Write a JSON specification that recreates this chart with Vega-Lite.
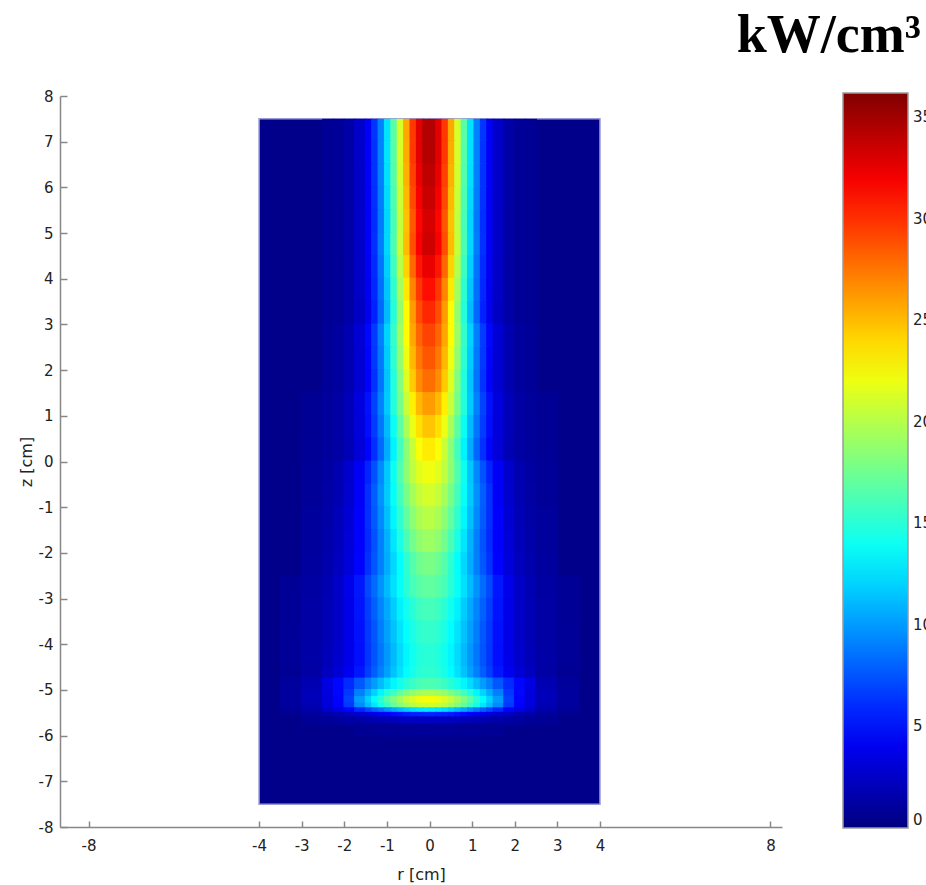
{
  "$schema": "https://vega.github.io/schema/vega-lite/v6.json",
  "width": 722,
  "height": 731,
  "autosize": {"type": "none"},
  "padding": {"left": 60, "top": 96, "right": 144, "bottom": 58},
  "background": "white",
  "title": {
    "text": "kW/cm³",
    "anchor": "end",
    "frame": "group",
    "font": "Liberation Serif",
    "fontSize": 54,
    "fontWeight": "bold",
    "color": "#000000",
    "baseline": "bottom",
    "offset": 30,
    "dy": 58,
    "dx": 139
  },
  "config": {
    "view": {"stroke": null},
    "axis": {
      "grid": false,
      "labelFont": "DejaVu Sans",
      "titleFont": "DejaVu Sans",
      "labelFontSize": 15,
      "titleFontSize": 16,
      "titleFontWeight": "normal",
      "labelColor": "#222222",
      "titleColor": "#222222",
      "domainColor": "#888888",
      "domainWidth": 1.5,
      "tickColor": "#888888",
      "tickWidth": 1.5,
      "labelOverlap": false,
      "labelFlush": false,
      "labelExpr": "datum.value < 0 ? '-' + abs(datum.value) : '' + datum.value"
    }
  },
  "datasets": {
    "frame": [{"r0": -4, "r1": 4, "z0": -7.5, "z1": 7.5, "p": 0.4}],
    "columns": [
      {"r": -3.25, "r0": -3.52, "r1": -2.98}, {"r": -2.75, "r0": -3.02, "r1": -2.48},
      {"r": -2.375, "r0": -2.52, "r1": -2.23}, {"r": -2.125, "r0": -2.27, "r1": -1.98}, {"r": -1.875, "r0": -2.02, "r1": -1.73},
      {"r": -1.625, "r0": -1.77, "r1": -1.48}, {"r": -1.425, "r0": -1.52, "r1": -1.33}, {"r": -1.275, "r0": -1.37, "r1": -1.18},
      {"r": -1.125, "r0": -1.22, "r1": -1.03}, {"r": -0.975, "r0": -1.07, "r1": -0.88}, {"r": -0.825, "r0": -0.92, "r1": -0.73},
      {"r": -0.675, "r0": -0.77, "r1": -0.58}, {"r": -0.525, "r0": -0.62, "r1": -0.43}, {"r": -0.375, "r0": -0.47, "r1": -0.28},
      {"r": -0.225, "r0": -0.32, "r1": -0.13}, {"r": -0.075, "r0": -0.17, "r1": 0.02},
      {"r": 0.075, "r0": -0.02, "r1": 0.17}, {"r": 0.225, "r0": 0.13, "r1": 0.32}, {"r": 0.375, "r0": 0.28, "r1": 0.47},
      {"r": 0.525, "r0": 0.43, "r1": 0.62}, {"r": 0.675, "r0": 0.58, "r1": 0.77}, {"r": 0.825, "r0": 0.73, "r1": 0.92},
      {"r": 0.975, "r0": 0.88, "r1": 1.07}, {"r": 1.125, "r0": 1.03, "r1": 1.22}, {"r": 1.275, "r0": 1.18, "r1": 1.37},
      {"r": 1.425, "r0": 1.33, "r1": 1.52}, {"r": 1.625, "r0": 1.48, "r1": 1.77}, {"r": 1.875, "r0": 1.73, "r1": 2.02},
      {"r": 2.125, "r0": 1.98, "r1": 2.27}, {"r": 2.375, "r0": 2.23, "r1": 2.52}, {"r": 2.75, "r0": 2.48, "r1": 3.02},
      {"r": 3.25, "r0": 2.98, "r1": 3.52}
    ],
    "rows": [
      {"z": 7.25, "z0": 6.98, "z1": 7.5}, {"z": 6.75, "z0": 6.48, "z1": 7.02}, {"z": 6.25, "z0": 5.98, "z1": 6.52},
      {"z": 5.75, "z0": 5.48, "z1": 6.02}, {"z": 5.25, "z0": 4.98, "z1": 5.52}, {"z": 4.75, "z0": 4.48, "z1": 5.02},
      {"z": 4.25, "z0": 3.98, "z1": 4.52}, {"z": 3.75, "z0": 3.48, "z1": 4.02}, {"z": 3.25, "z0": 2.98, "z1": 3.52},
      {"z": 2.75, "z0": 2.48, "z1": 3.02}, {"z": 2.25, "z0": 1.98, "z1": 2.52}, {"z": 1.75, "z0": 1.48, "z1": 2.02},
      {"z": 1.25, "z0": 0.98, "z1": 1.52}, {"z": 0.75, "z0": 0.48, "z1": 1.02}, {"z": 0.25, "z0": -0.02, "z1": 0.52},
      {"z": -0.25, "z0": -0.52, "z1": 0.02}, {"z": -0.75, "z0": -1.02, "z1": -0.48}, {"z": -1.25, "z0": -1.52, "z1": -0.98},
      {"z": -1.75, "z0": -2.02, "z1": -1.48}, {"z": -2.25, "z0": -2.52, "z1": -1.98}, {"z": -2.75, "z0": -3.02, "z1": -2.48},
      {"z": -3.25, "z0": -3.52, "z1": -2.98}, {"z": -3.75, "z0": -4.02, "z1": -3.48}, {"z": -4.25, "z0": -4.52, "z1": -3.98},
      {"z": -4.625, "z0": -4.77, "z1": -4.48}, {"z": -4.875, "z0": -5.02, "z1": -4.73}, {"z": -5.075, "z0": -5.17, "z1": -4.98},
      {"z": -5.225, "z0": -5.32, "z1": -5.13}, {"z": -5.35, "z0": -5.42, "z1": -5.28}, {"z": -5.45, "z0": -5.52, "z1": -5.38},
      {"z": -5.55, "z0": -5.62, "z1": -5.48}, {"z": -5.675, "z0": -5.77, "z1": -5.58}, {"z": -5.875, "z0": -6.02, "z1": -5.73}
    ],
    "cells": [
      {"r":-2.375,"z":7.25,"p":0.7},{"r":-2.125,"z":7.25,"p":0.9},{"r":-1.875,"z":7.25,"p":1.4},{"r":-1.625,"z":7.25,"p":2.6},{"r":-1.425,"z":7.25,"p":4.3},{"r":-1.275,"z":7.25,"p":6.4},{"r":-1.125,"z":7.25,"p":9.1},{"r":-0.975,"z":7.25,"p":12.6},{"r":-0.825,"z":7.25,"p":16.7},{"r":-0.675,"z":7.25,"p":21.2},{"r":-0.525,"z":7.25,"p":25.7},{"r":-0.375,"z":7.25,"p":29.7},{"r":-0.225,"z":7.25,"p":32.7},{"r":-0.075,"z":7.25,"p":34.4},
      {"r":0.075,"z":7.25,"p":34.4},{"r":0.225,"z":7.25,"p":32.7},{"r":0.375,"z":7.25,"p":29.7},{"r":0.525,"z":7.25,"p":25.7},{"r":0.675,"z":7.25,"p":21.2},{"r":0.825,"z":7.25,"p":16.7},{"r":0.975,"z":7.25,"p":12.6},{"r":1.125,"z":7.25,"p":9.1},{"r":1.275,"z":7.25,"p":6.4},{"r":1.425,"z":7.25,"p":4.3},{"r":1.625,"z":7.25,"p":2.6},{"r":1.875,"z":7.25,"p":1.4},{"r":2.125,"z":7.25,"p":0.9},{"r":2.375,"z":7.25,"p":0.7},

      {"r":-2.375,"z":6.75,"p":0.7},{"r":-2.125,"z":6.75,"p":0.9},{"r":-1.875,"z":6.75,"p":1.4},{"r":-1.625,"z":6.75,"p":2.6},{"r":-1.425,"z":6.75,"p":4.3},{"r":-1.275,"z":6.75,"p":6.3},{"r":-1.125,"z":6.75,"p":9.1},{"r":-0.975,"z":6.75,"p":12.6},{"r":-0.825,"z":6.75,"p":16.6},{"r":-0.675,"z":6.75,"p":21.2},{"r":-0.525,"z":6.75,"p":25.6},{"r":-0.375,"z":6.75,"p":29.7},{"r":-0.225,"z":6.75,"p":32.7},{"r":-0.075,"z":6.75,"p":34.3},
      {"r":0.075,"z":6.75,"p":34.3},{"r":0.225,"z":6.75,"p":32.7},{"r":0.375,"z":6.75,"p":29.7},{"r":0.525,"z":6.75,"p":25.6},{"r":0.675,"z":6.75,"p":21.2},{"r":0.825,"z":6.75,"p":16.6},{"r":0.975,"z":6.75,"p":12.6},{"r":1.125,"z":6.75,"p":9.1},{"r":1.275,"z":6.75,"p":6.3},{"r":1.425,"z":6.75,"p":4.3},{"r":1.625,"z":6.75,"p":2.6},{"r":1.875,"z":6.75,"p":1.4},{"r":2.125,"z":6.75,"p":0.9},{"r":2.375,"z":6.75,"p":0.7},

      {"r":-2.375,"z":6.25,"p":0.7},{"r":-2.125,"z":6.25,"p":0.9},{"r":-1.875,"z":6.25,"p":1.4},{"r":-1.625,"z":6.25,"p":2.5},{"r":-1.425,"z":6.25,"p":4.3},{"r":-1.275,"z":6.25,"p":6.3},{"r":-1.125,"z":6.25,"p":9.0},{"r":-0.975,"z":6.25,"p":12.5},{"r":-0.825,"z":6.25,"p":16.5},{"r":-0.675,"z":6.25,"p":21.0},{"r":-0.525,"z":6.25,"p":25.4},{"r":-0.375,"z":6.25,"p":29.4},{"r":-0.225,"z":6.25,"p":32.4},{"r":-0.075,"z":6.25,"p":34.0},
      {"r":0.075,"z":6.25,"p":34.0},{"r":0.225,"z":6.25,"p":32.4},{"r":0.375,"z":6.25,"p":29.4},{"r":0.525,"z":6.25,"p":25.4},{"r":0.675,"z":6.25,"p":21.0},{"r":0.825,"z":6.25,"p":16.5},{"r":0.975,"z":6.25,"p":12.5},{"r":1.125,"z":6.25,"p":9.0},{"r":1.275,"z":6.25,"p":6.3},{"r":1.425,"z":6.25,"p":4.3},{"r":1.625,"z":6.25,"p":2.5},{"r":1.875,"z":6.25,"p":1.4},{"r":2.125,"z":6.25,"p":0.9},{"r":2.375,"z":6.25,"p":0.7},

      {"r":-2.375,"z":5.75,"p":0.7},{"r":-2.125,"z":5.75,"p":0.9},{"r":-1.875,"z":5.75,"p":1.4},{"r":-1.625,"z":5.75,"p":2.5},{"r":-1.425,"z":5.75,"p":4.2},{"r":-1.275,"z":5.75,"p":6.2},{"r":-1.125,"z":5.75,"p":8.9},{"r":-0.975,"z":5.75,"p":12.3},{"r":-0.825,"z":5.75,"p":16.3},{"r":-0.675,"z":5.75,"p":20.7},{"r":-0.525,"z":5.75,"p":25.1},{"r":-0.375,"z":5.75,"p":29.1},{"r":-0.225,"z":5.75,"p":32.0},{"r":-0.075,"z":5.75,"p":33.6},
      {"r":0.075,"z":5.75,"p":33.6},{"r":0.225,"z":5.75,"p":32.0},{"r":0.375,"z":5.75,"p":29.1},{"r":0.525,"z":5.75,"p":25.1},{"r":0.675,"z":5.75,"p":20.7},{"r":0.825,"z":5.75,"p":16.3},{"r":0.975,"z":5.75,"p":12.3},{"r":1.125,"z":5.75,"p":8.9},{"r":1.275,"z":5.75,"p":6.2},{"r":1.425,"z":5.75,"p":4.2},{"r":1.625,"z":5.75,"p":2.5},{"r":1.875,"z":5.75,"p":1.4},{"r":2.125,"z":5.75,"p":0.9},{"r":2.375,"z":5.75,"p":0.7},

      {"r":-2.375,"z":5.25,"p":0.7},{"r":-2.125,"z":5.25,"p":0.9},{"r":-1.875,"z":5.25,"p":1.3},{"r":-1.625,"z":5.25,"p":2.5},{"r":-1.425,"z":5.25,"p":4.2},{"r":-1.275,"z":5.25,"p":6.1},{"r":-1.125,"z":5.25,"p":8.8},{"r":-0.975,"z":5.25,"p":12.1},{"r":-0.825,"z":5.25,"p":16.1},{"r":-0.675,"z":5.25,"p":20.4},{"r":-0.525,"z":5.25,"p":24.8},{"r":-0.375,"z":5.25,"p":28.6},{"r":-0.225,"z":5.25,"p":31.5},{"r":-0.075,"z":5.25,"p":33.1},
      {"r":0.075,"z":5.25,"p":33.1},{"r":0.225,"z":5.25,"p":31.5},{"r":0.375,"z":5.25,"p":28.6},{"r":0.525,"z":5.25,"p":24.8},{"r":0.675,"z":5.25,"p":20.4},{"r":0.825,"z":5.25,"p":16.1},{"r":0.975,"z":5.25,"p":12.1},{"r":1.125,"z":5.25,"p":8.8},{"r":1.275,"z":5.25,"p":6.1},{"r":1.425,"z":5.25,"p":4.2},{"r":1.625,"z":5.25,"p":2.5},{"r":1.875,"z":5.25,"p":1.3},{"r":2.125,"z":5.25,"p":0.9},{"r":2.375,"z":5.25,"p":0.7},

      {"r":-2.375,"z":4.75,"p":0.7},{"r":-2.125,"z":4.75,"p":0.9},{"r":-1.875,"z":4.75,"p":1.4},{"r":-1.625,"z":4.75,"p":2.5},{"r":-1.425,"z":4.75,"p":4.2},{"r":-1.275,"z":4.75,"p":6.2},{"r":-1.125,"z":4.75,"p":8.9},{"r":-0.975,"z":4.75,"p":12.2},{"r":-0.825,"z":4.75,"p":16.2},{"r":-0.675,"z":4.75,"p":20.6},{"r":-0.525,"z":4.75,"p":25.0},{"r":-0.375,"z":4.75,"p":28.9},{"r":-0.225,"z":4.75,"p":31.8},{"r":-0.075,"z":4.75,"p":33.4},
      {"r":0.075,"z":4.75,"p":33.4},{"r":0.225,"z":4.75,"p":31.8},{"r":0.375,"z":4.75,"p":28.9},{"r":0.525,"z":4.75,"p":25.0},{"r":0.675,"z":4.75,"p":20.6},{"r":0.825,"z":4.75,"p":16.2},{"r":0.975,"z":4.75,"p":12.2},{"r":1.125,"z":4.75,"p":8.9},{"r":1.275,"z":4.75,"p":6.2},{"r":1.425,"z":4.75,"p":4.2},{"r":1.625,"z":4.75,"p":2.5},{"r":1.875,"z":4.75,"p":1.4},{"r":2.125,"z":4.75,"p":0.9},{"r":2.375,"z":4.75,"p":0.7},

      {"r":-2.375,"z":4.25,"p":0.7},{"r":-2.125,"z":4.25,"p":0.9},{"r":-1.875,"z":4.25,"p":1.3},{"r":-1.625,"z":4.25,"p":2.5},{"r":-1.425,"z":4.25,"p":4.1},{"r":-1.275,"z":4.25,"p":6.0},{"r":-1.125,"z":4.25,"p":8.6},{"r":-0.975,"z":4.25,"p":11.9},{"r":-0.825,"z":4.25,"p":15.7},{"r":-0.675,"z":4.25,"p":20.0},{"r":-0.525,"z":4.25,"p":24.2},{"r":-0.375,"z":4.25,"p":28.0},{"r":-0.225,"z":4.25,"p":30.9},{"r":-0.075,"z":4.25,"p":32.4},
      {"r":0.075,"z":4.25,"p":32.4},{"r":0.225,"z":4.25,"p":30.9},{"r":0.375,"z":4.25,"p":28.0},{"r":0.525,"z":4.25,"p":24.2},{"r":0.675,"z":4.25,"p":20.0},{"r":0.825,"z":4.25,"p":15.7},{"r":0.975,"z":4.25,"p":11.9},{"r":1.125,"z":4.25,"p":8.6},{"r":1.275,"z":4.25,"p":6.0},{"r":1.425,"z":4.25,"p":4.1},{"r":1.625,"z":4.25,"p":2.5},{"r":1.875,"z":4.25,"p":1.3},{"r":2.125,"z":4.25,"p":0.9},{"r":2.375,"z":4.25,"p":0.7},

      {"r":-2.375,"z":3.75,"p":0.7},{"r":-2.125,"z":3.75,"p":0.9},{"r":-1.875,"z":3.75,"p":1.4},{"r":-1.625,"z":3.75,"p":2.5},{"r":-1.425,"z":3.75,"p":4.0},{"r":-1.275,"z":3.75,"p":5.9},{"r":-1.125,"z":3.75,"p":8.4},{"r":-0.975,"z":3.75,"p":11.5},{"r":-0.825,"z":3.75,"p":15.2},{"r":-0.675,"z":3.75,"p":19.3},{"r":-0.525,"z":3.75,"p":23.4},{"r":-0.375,"z":3.75,"p":27.0},{"r":-0.225,"z":3.75,"p":29.7},{"r":-0.075,"z":3.75,"p":31.2},
      {"r":0.075,"z":3.75,"p":31.2},{"r":0.225,"z":3.75,"p":29.7},{"r":0.375,"z":3.75,"p":27.0},{"r":0.525,"z":3.75,"p":23.4},{"r":0.675,"z":3.75,"p":19.3},{"r":0.825,"z":3.75,"p":15.2},{"r":0.975,"z":3.75,"p":11.5},{"r":1.125,"z":3.75,"p":8.4},{"r":1.275,"z":3.75,"p":5.9},{"r":1.425,"z":3.75,"p":4.0},{"r":1.625,"z":3.75,"p":2.5},{"r":1.875,"z":3.75,"p":1.4},{"r":2.125,"z":3.75,"p":0.9},{"r":2.375,"z":3.75,"p":0.7},

      {"r":-2.375,"z":3.25,"p":0.7},{"r":-2.125,"z":3.25,"p":0.9},{"r":-1.875,"z":3.25,"p":1.4},{"r":-1.625,"z":3.25,"p":2.4},{"r":-1.425,"z":3.25,"p":3.9},{"r":-1.275,"z":3.25,"p":5.7},{"r":-1.125,"z":3.25,"p":8.2},{"r":-0.975,"z":3.25,"p":11.2},{"r":-0.825,"z":3.25,"p":14.8},{"r":-0.675,"z":3.25,"p":18.8},{"r":-0.525,"z":3.25,"p":22.7},{"r":-0.375,"z":3.25,"p":26.2},{"r":-0.225,"z":3.25,"p":28.9},{"r":-0.075,"z":3.25,"p":30.3},
      {"r":0.075,"z":3.25,"p":30.3},{"r":0.225,"z":3.25,"p":28.9},{"r":0.375,"z":3.25,"p":26.2},{"r":0.525,"z":3.25,"p":22.7},{"r":0.675,"z":3.25,"p":18.8},{"r":0.825,"z":3.25,"p":14.8},{"r":0.975,"z":3.25,"p":11.2},{"r":1.125,"z":3.25,"p":8.2},{"r":1.275,"z":3.25,"p":5.7},{"r":1.425,"z":3.25,"p":3.9},{"r":1.625,"z":3.25,"p":2.4},{"r":1.875,"z":3.25,"p":1.4},{"r":2.125,"z":3.25,"p":0.9},{"r":2.375,"z":3.25,"p":0.7},

      {"r":-2.375,"z":2.75,"p":0.9},{"r":-2.125,"z":2.75,"p":1.1},{"r":-1.875,"z":2.75,"p":1.7},{"r":-1.625,"z":2.75,"p":3.0},{"r":-1.425,"z":2.75,"p":4.7},{"r":-1.275,"z":2.75,"p":6.6},{"r":-1.125,"z":2.75,"p":9.0},{"r":-0.975,"z":2.75,"p":12.0},{"r":-0.825,"z":2.75,"p":15.4},{"r":-0.675,"z":2.75,"p":19.1},{"r":-0.525,"z":2.75,"p":22.7},{"r":-0.375,"z":2.75,"p":25.8},{"r":-0.225,"z":2.75,"p":28.1},{"r":-0.075,"z":2.75,"p":29.3},
      {"r":0.075,"z":2.75,"p":29.3},{"r":0.225,"z":2.75,"p":28.1},{"r":0.375,"z":2.75,"p":25.8},{"r":0.525,"z":2.75,"p":22.7},{"r":0.675,"z":2.75,"p":19.1},{"r":0.825,"z":2.75,"p":15.4},{"r":0.975,"z":2.75,"p":12.0},{"r":1.125,"z":2.75,"p":9.0},{"r":1.275,"z":2.75,"p":6.6},{"r":1.425,"z":2.75,"p":4.7},{"r":1.625,"z":2.75,"p":3.0},{"r":1.875,"z":2.75,"p":1.7},{"r":2.125,"z":2.75,"p":1.1},{"r":2.375,"z":2.75,"p":0.9},

      {"r":-2.375,"z":2.25,"p":0.9},{"r":-2.125,"z":2.25,"p":1.1},{"r":-1.875,"z":2.25,"p":1.7},{"r":-1.625,"z":2.25,"p":2.9},{"r":-1.425,"z":2.25,"p":4.6},{"r":-1.275,"z":2.25,"p":6.5},{"r":-1.125,"z":2.25,"p":8.8},{"r":-0.975,"z":2.25,"p":11.8},{"r":-0.825,"z":2.25,"p":15.1},{"r":-0.675,"z":2.25,"p":18.7},{"r":-0.525,"z":2.25,"p":22.1},{"r":-0.375,"z":2.25,"p":25.2},{"r":-0.225,"z":2.25,"p":27.4},{"r":-0.075,"z":2.25,"p":28.6},
      {"r":0.075,"z":2.25,"p":28.6},{"r":0.225,"z":2.25,"p":27.4},{"r":0.375,"z":2.25,"p":25.2},{"r":0.525,"z":2.25,"p":22.1},{"r":0.675,"z":2.25,"p":18.7},{"r":0.825,"z":2.25,"p":15.1},{"r":0.975,"z":2.25,"p":11.8},{"r":1.125,"z":2.25,"p":8.8},{"r":1.275,"z":2.25,"p":6.5},{"r":1.425,"z":2.25,"p":4.6},{"r":1.625,"z":2.25,"p":2.9},{"r":1.875,"z":2.25,"p":1.7},{"r":2.125,"z":2.25,"p":1.1},{"r":2.375,"z":2.25,"p":0.9},

      {"r":-2.375,"z":1.75,"p":0.9},{"r":-2.125,"z":1.75,"p":1.1},{"r":-1.875,"z":1.75,"p":1.7},{"r":-1.625,"z":1.75,"p":2.9},{"r":-1.425,"z":1.75,"p":4.5},{"r":-1.275,"z":1.75,"p":6.3},{"r":-1.125,"z":1.75,"p":8.6},{"r":-0.975,"z":1.75,"p":11.5},{"r":-0.825,"z":1.75,"p":14.7},{"r":-0.675,"z":1.75,"p":18.1},{"r":-0.525,"z":1.75,"p":21.5},{"r":-0.375,"z":1.75,"p":24.5},{"r":-0.225,"z":1.75,"p":26.7},{"r":-0.075,"z":1.75,"p":27.8},
      {"r":0.075,"z":1.75,"p":27.8},{"r":0.225,"z":1.75,"p":26.7},{"r":0.375,"z":1.75,"p":24.5},{"r":0.525,"z":1.75,"p":21.5},{"r":0.675,"z":1.75,"p":18.1},{"r":0.825,"z":1.75,"p":14.7},{"r":0.975,"z":1.75,"p":11.5},{"r":1.125,"z":1.75,"p":8.6},{"r":1.275,"z":1.75,"p":6.3},{"r":1.425,"z":1.75,"p":4.5},{"r":1.625,"z":1.75,"p":2.9},{"r":1.875,"z":1.75,"p":1.7},{"r":2.125,"z":1.75,"p":1.1},{"r":2.375,"z":1.75,"p":0.9},

      {"r":-2.75,"z":1.25,"p":0.7},{"r":-2.375,"z":1.25,"p":1.0},{"r":-2.125,"z":1.25,"p":1.3},{"r":-1.875,"z":1.25,"p":2.0},{"r":-1.625,"z":1.25,"p":3.3},{"r":-1.425,"z":1.25,"p":5.1},{"r":-1.275,"z":1.25,"p":6.9},{"r":-1.125,"z":1.25,"p":9.1},{"r":-0.975,"z":1.25,"p":11.7},{"r":-0.825,"z":1.25,"p":14.7},{"r":-0.675,"z":1.25,"p":17.7},{"r":-0.525,"z":1.25,"p":20.7},{"r":-0.375,"z":1.25,"p":23.2},{"r":-0.225,"z":1.25,"p":25.1},{"r":-0.075,"z":1.25,"p":26.1},
      {"r":0.075,"z":1.25,"p":26.1},{"r":0.225,"z":1.25,"p":25.1},{"r":0.375,"z":1.25,"p":23.2},{"r":0.525,"z":1.25,"p":20.7},{"r":0.675,"z":1.25,"p":17.7},{"r":0.825,"z":1.25,"p":14.7},{"r":0.975,"z":1.25,"p":11.7},{"r":1.125,"z":1.25,"p":9.1},{"r":1.275,"z":1.25,"p":6.9},{"r":1.425,"z":1.25,"p":5.1},{"r":1.625,"z":1.25,"p":3.3},{"r":1.875,"z":1.25,"p":2.0},{"r":2.125,"z":1.25,"p":1.3},{"r":2.375,"z":1.25,"p":1.0},{"r":2.75,"z":1.25,"p":0.7},

      {"r":-2.75,"z":0.75,"p":0.7},{"r":-2.375,"z":0.75,"p":1.0},{"r":-2.125,"z":0.75,"p":1.3},{"r":-1.875,"z":0.75,"p":2.0},{"r":-1.625,"z":0.75,"p":3.2},{"r":-1.425,"z":0.75,"p":4.9},{"r":-1.275,"z":0.75,"p":6.6},{"r":-1.125,"z":0.75,"p":8.7},{"r":-0.975,"z":0.75,"p":11.1},{"r":-0.825,"z":0.75,"p":13.9},{"r":-0.675,"z":0.75,"p":16.8},{"r":-0.525,"z":0.75,"p":19.6},{"r":-0.375,"z":0.75,"p":22.0},{"r":-0.225,"z":0.75,"p":23.7},{"r":-0.075,"z":0.75,"p":24.7},
      {"r":0.075,"z":0.75,"p":24.7},{"r":0.225,"z":0.75,"p":23.7},{"r":0.375,"z":0.75,"p":22.0},{"r":0.525,"z":0.75,"p":19.6},{"r":0.675,"z":0.75,"p":16.8},{"r":0.825,"z":0.75,"p":13.9},{"r":0.975,"z":0.75,"p":11.1},{"r":1.125,"z":0.75,"p":8.7},{"r":1.275,"z":0.75,"p":6.6},{"r":1.425,"z":0.75,"p":4.9},{"r":1.625,"z":0.75,"p":3.2},{"r":1.875,"z":0.75,"p":2.0},{"r":2.125,"z":0.75,"p":1.3},{"r":2.375,"z":0.75,"p":1.0},{"r":2.75,"z":0.75,"p":0.7},

      {"r":-2.75,"z":0.25,"p":0.8},{"r":-2.375,"z":0.25,"p":1.0},{"r":-2.125,"z":0.25,"p":1.3},{"r":-1.875,"z":0.25,"p":1.9},{"r":-1.625,"z":0.25,"p":3.1},{"r":-1.425,"z":0.25,"p":4.6},{"r":-1.275,"z":0.25,"p":6.2},{"r":-1.125,"z":0.25,"p":8.2},{"r":-0.975,"z":0.25,"p":10.6},{"r":-0.825,"z":0.25,"p":13.2},{"r":-0.675,"z":0.25,"p":15.9},{"r":-0.525,"z":0.25,"p":18.5},{"r":-0.375,"z":0.25,"p":20.7},{"r":-0.225,"z":0.25,"p":22.4},{"r":-0.075,"z":0.25,"p":23.3},
      {"r":0.075,"z":0.25,"p":23.3},{"r":0.225,"z":0.25,"p":22.4},{"r":0.375,"z":0.25,"p":20.7},{"r":0.525,"z":0.25,"p":18.5},{"r":0.675,"z":0.25,"p":15.9},{"r":0.825,"z":0.25,"p":13.2},{"r":0.975,"z":0.25,"p":10.6},{"r":1.125,"z":0.25,"p":8.2},{"r":1.275,"z":0.25,"p":6.2},{"r":1.425,"z":0.25,"p":4.6},{"r":1.625,"z":0.25,"p":3.1},{"r":1.875,"z":0.25,"p":1.9},{"r":2.125,"z":0.25,"p":1.3},{"r":2.375,"z":0.25,"p":1.0},{"r":2.75,"z":0.25,"p":0.8},

      {"r":-2.75,"z":-0.25,"p":0.9},{"r":-2.375,"z":-0.25,"p":1.2},{"r":-2.125,"z":-0.25,"p":1.7},{"r":-1.875,"z":-0.25,"p":2.7},{"r":-1.625,"z":-0.25,"p":4.2},{"r":-1.425,"z":-0.25,"p":5.8},{"r":-1.275,"z":-0.25,"p":7.4},{"r":-1.125,"z":-0.25,"p":9.4},{"r":-0.975,"z":-0.25,"p":11.6},{"r":-0.825,"z":-0.25,"p":14.0},{"r":-0.675,"z":-0.25,"p":16.4},{"r":-0.525,"z":-0.25,"p":18.6},{"r":-0.375,"z":-0.25,"p":20.3},{"r":-0.225,"z":-0.25,"p":21.5},{"r":-0.075,"z":-0.25,"p":22.1},
      {"r":0.075,"z":-0.25,"p":22.1},{"r":0.225,"z":-0.25,"p":21.5},{"r":0.375,"z":-0.25,"p":20.3},{"r":0.525,"z":-0.25,"p":18.6},{"r":0.675,"z":-0.25,"p":16.4},{"r":0.825,"z":-0.25,"p":14.0},{"r":0.975,"z":-0.25,"p":11.6},{"r":1.125,"z":-0.25,"p":9.4},{"r":1.275,"z":-0.25,"p":7.4},{"r":1.425,"z":-0.25,"p":5.8},{"r":1.625,"z":-0.25,"p":4.2},{"r":1.875,"z":-0.25,"p":2.7},{"r":2.125,"z":-0.25,"p":1.7},{"r":2.375,"z":-0.25,"p":1.2},{"r":2.75,"z":-0.25,"p":0.9},

      {"r":-2.75,"z":-0.75,"p":0.9},{"r":-2.375,"z":-0.75,"p":1.3},{"r":-2.125,"z":-0.75,"p":1.8},{"r":-1.875,"z":-0.75,"p":2.8},{"r":-1.625,"z":-0.75,"p":4.3},{"r":-1.425,"z":-0.75,"p":6.2},{"r":-1.275,"z":-0.75,"p":7.8},{"r":-1.125,"z":-0.75,"p":9.7},{"r":-0.975,"z":-0.75,"p":11.7},{"r":-0.825,"z":-0.75,"p":13.8},{"r":-0.675,"z":-0.75,"p":15.9},{"r":-0.525,"z":-0.75,"p":17.8},{"r":-0.375,"z":-0.75,"p":19.4},{"r":-0.225,"z":-0.75,"p":20.5},{"r":-0.075,"z":-0.75,"p":21.1},
      {"r":0.075,"z":-0.75,"p":21.1},{"r":0.225,"z":-0.75,"p":20.5},{"r":0.375,"z":-0.75,"p":19.4},{"r":0.525,"z":-0.75,"p":17.8},{"r":0.675,"z":-0.75,"p":15.9},{"r":0.825,"z":-0.75,"p":13.8},{"r":0.975,"z":-0.75,"p":11.7},{"r":1.125,"z":-0.75,"p":9.7},{"r":1.275,"z":-0.75,"p":7.8},{"r":1.425,"z":-0.75,"p":6.2},{"r":1.625,"z":-0.75,"p":4.3},{"r":1.875,"z":-0.75,"p":2.8},{"r":2.125,"z":-0.75,"p":1.8},{"r":2.375,"z":-0.75,"p":1.3},{"r":2.75,"z":-0.75,"p":0.9},

      {"r":-2.75,"z":-1.25,"p":1.0},{"r":-2.375,"z":-1.25,"p":1.4},{"r":-2.125,"z":-1.25,"p":2.0},{"r":-1.875,"z":-1.25,"p":3.0},{"r":-1.625,"z":-1.25,"p":4.5},{"r":-1.425,"z":-1.25,"p":6.2},{"r":-1.275,"z":-1.25,"p":7.7},{"r":-1.125,"z":-1.25,"p":9.4},{"r":-0.975,"z":-1.25,"p":11.3},{"r":-0.825,"z":-1.25,"p":13.3},{"r":-0.675,"z":-1.25,"p":15.2},{"r":-0.525,"z":-1.25,"p":17.0},{"r":-0.375,"z":-1.25,"p":18.5},{"r":-0.225,"z":-1.25,"p":19.6},{"r":-0.075,"z":-1.25,"p":20.1},
      {"r":0.075,"z":-1.25,"p":20.1},{"r":0.225,"z":-1.25,"p":19.6},{"r":0.375,"z":-1.25,"p":18.5},{"r":0.525,"z":-1.25,"p":17.0},{"r":0.675,"z":-1.25,"p":15.2},{"r":0.825,"z":-1.25,"p":13.3},{"r":0.975,"z":-1.25,"p":11.3},{"r":1.125,"z":-1.25,"p":9.4},{"r":1.275,"z":-1.25,"p":7.7},{"r":1.425,"z":-1.25,"p":6.2},{"r":1.625,"z":-1.25,"p":4.5},{"r":1.875,"z":-1.25,"p":3.0},{"r":2.125,"z":-1.25,"p":2.0},{"r":2.375,"z":-1.25,"p":1.4},{"r":2.75,"z":-1.25,"p":1.0},

      {"r":-2.75,"z":-1.75,"p":1.0},{"r":-2.375,"z":-1.75,"p":1.5},{"r":-2.125,"z":-1.75,"p":2.1},{"r":-1.875,"z":-1.75,"p":3.1},{"r":-1.625,"z":-1.75,"p":4.5},{"r":-1.425,"z":-1.75,"p":6.0},{"r":-1.275,"z":-1.75,"p":7.4},{"r":-1.125,"z":-1.75,"p":9.0},{"r":-0.975,"z":-1.75,"p":10.8},{"r":-0.825,"z":-1.75,"p":12.7},{"r":-0.675,"z":-1.75,"p":14.5},{"r":-0.525,"z":-1.75,"p":16.2},{"r":-0.375,"z":-1.75,"p":17.6},{"r":-0.225,"z":-1.75,"p":18.6},{"r":-0.075,"z":-1.75,"p":19.1},
      {"r":0.075,"z":-1.75,"p":19.1},{"r":0.225,"z":-1.75,"p":18.6},{"r":0.375,"z":-1.75,"p":17.6},{"r":0.525,"z":-1.75,"p":16.2},{"r":0.675,"z":-1.75,"p":14.5},{"r":0.825,"z":-1.75,"p":12.7},{"r":0.975,"z":-1.75,"p":10.8},{"r":1.125,"z":-1.75,"p":9.0},{"r":1.275,"z":-1.75,"p":7.4},{"r":1.425,"z":-1.75,"p":6.0},{"r":1.625,"z":-1.75,"p":4.5},{"r":1.875,"z":-1.75,"p":3.1},{"r":2.125,"z":-1.75,"p":2.1},{"r":2.375,"z":-1.75,"p":1.5},{"r":2.75,"z":-1.75,"p":1.0},

      {"r":-2.75,"z":-2.25,"p":1.1},{"r":-2.375,"z":-2.25,"p":1.6},{"r":-2.125,"z":-2.25,"p":2.2},{"r":-1.875,"z":-2.25,"p":3.2},{"r":-1.625,"z":-2.25,"p":4.6},{"r":-1.425,"z":-2.25,"p":6.3},{"r":-1.275,"z":-2.25,"p":7.6},{"r":-1.125,"z":-2.25,"p":9.0},{"r":-0.975,"z":-2.25,"p":10.6},{"r":-0.825,"z":-2.25,"p":12.2},{"r":-0.675,"z":-2.25,"p":13.6},{"r":-0.525,"z":-2.25,"p":15.2},{"r":-0.375,"z":-2.25,"p":16.5},{"r":-0.225,"z":-2.25,"p":17.4},{"r":-0.075,"z":-2.25,"p":17.9},
      {"r":0.075,"z":-2.25,"p":17.9},{"r":0.225,"z":-2.25,"p":17.4},{"r":0.375,"z":-2.25,"p":16.5},{"r":0.525,"z":-2.25,"p":15.2},{"r":0.675,"z":-2.25,"p":13.6},{"r":0.825,"z":-2.25,"p":12.2},{"r":0.975,"z":-2.25,"p":10.6},{"r":1.125,"z":-2.25,"p":9.0},{"r":1.275,"z":-2.25,"p":7.6},{"r":1.425,"z":-2.25,"p":6.3},{"r":1.625,"z":-2.25,"p":4.6},{"r":1.875,"z":-2.25,"p":3.2},{"r":2.125,"z":-2.25,"p":2.2},{"r":2.375,"z":-2.25,"p":1.6},{"r":2.75,"z":-2.25,"p":1.1},

      {"r":-3.25,"z":-2.75,"p":0.8},{"r":-2.75,"z":-2.75,"p":1.2},{"r":-2.375,"z":-2.75,"p":1.8},{"r":-2.125,"z":-2.75,"p":2.6},{"r":-1.875,"z":-2.75,"p":3.8},{"r":-1.625,"z":-2.75,"p":5.3},{"r":-1.425,"z":-2.75,"p":7.1},{"r":-1.275,"z":-2.75,"p":8.3},{"r":-1.125,"z":-2.75,"p":9.7},{"r":-0.975,"z":-2.75,"p":11.1},{"r":-0.825,"z":-2.75,"p":12.5},{"r":-0.675,"z":-2.75,"p":13.8},{"r":-0.525,"z":-2.75,"p":15.0},{"r":-0.375,"z":-2.75,"p":16.0},{"r":-0.225,"z":-2.75,"p":16.6},{"r":-0.075,"z":-2.75,"p":17.0},
      {"r":0.075,"z":-2.75,"p":17.0},{"r":0.225,"z":-2.75,"p":16.6},{"r":0.375,"z":-2.75,"p":16.0},{"r":0.525,"z":-2.75,"p":15.0},{"r":0.675,"z":-2.75,"p":13.8},{"r":0.825,"z":-2.75,"p":12.5},{"r":0.975,"z":-2.75,"p":11.1},{"r":1.125,"z":-2.75,"p":9.7},{"r":1.275,"z":-2.75,"p":8.3},{"r":1.425,"z":-2.75,"p":7.1},{"r":1.625,"z":-2.75,"p":5.3},{"r":1.875,"z":-2.75,"p":3.8},{"r":2.125,"z":-2.75,"p":2.6},{"r":2.375,"z":-2.75,"p":1.8},{"r":2.75,"z":-2.75,"p":1.2},{"r":3.25,"z":-2.75,"p":0.8},

      {"r":-3.25,"z":-3.25,"p":0.8},{"r":-2.75,"z":-3.25,"p":1.3},{"r":-2.375,"z":-3.25,"p":1.9},{"r":-2.125,"z":-3.25,"p":2.6},{"r":-1.875,"z":-3.25,"p":3.7},{"r":-1.625,"z":-3.25,"p":5.2},{"r":-1.425,"z":-3.25,"p":6.7},{"r":-1.275,"z":-3.25,"p":7.9},{"r":-1.125,"z":-3.25,"p":9.2},{"r":-0.975,"z":-3.25,"p":10.5},{"r":-0.825,"z":-3.25,"p":11.8},{"r":-0.675,"z":-3.25,"p":13.1},{"r":-0.525,"z":-3.25,"p":14.1},{"r":-0.375,"z":-3.25,"p":15.0},{"r":-0.225,"z":-3.25,"p":15.7},{"r":-0.075,"z":-3.25,"p":16.0},
      {"r":0.075,"z":-3.25,"p":16.0},{"r":0.225,"z":-3.25,"p":15.7},{"r":0.375,"z":-3.25,"p":15.0},{"r":0.525,"z":-3.25,"p":14.1},{"r":0.675,"z":-3.25,"p":13.1},{"r":0.825,"z":-3.25,"p":11.8},{"r":0.975,"z":-3.25,"p":10.5},{"r":1.125,"z":-3.25,"p":9.2},{"r":1.275,"z":-3.25,"p":7.9},{"r":1.425,"z":-3.25,"p":6.7},{"r":1.625,"z":-3.25,"p":5.2},{"r":1.875,"z":-3.25,"p":3.7},{"r":2.125,"z":-3.25,"p":2.6},{"r":2.375,"z":-3.25,"p":1.9},{"r":2.75,"z":-3.25,"p":1.3},{"r":3.25,"z":-3.25,"p":0.8},

      {"r":-3.25,"z":-3.75,"p":0.9},{"r":-2.75,"z":-3.75,"p":1.3},{"r":-2.375,"z":-3.75,"p":1.9},{"r":-2.125,"z":-3.75,"p":2.6},{"r":-1.875,"z":-3.75,"p":3.7},{"r":-1.625,"z":-3.75,"p":5.1},{"r":-1.425,"z":-3.75,"p":6.5},{"r":-1.275,"z":-3.75,"p":7.6},{"r":-1.125,"z":-3.75,"p":8.9},{"r":-0.975,"z":-3.75,"p":10.2},{"r":-0.825,"z":-3.75,"p":11.4},{"r":-0.675,"z":-3.75,"p":12.6},{"r":-0.525,"z":-3.75,"p":13.6},{"r":-0.375,"z":-3.75,"p":14.5},{"r":-0.225,"z":-3.75,"p":15.1},{"r":-0.075,"z":-3.75,"p":15.4},
      {"r":0.075,"z":-3.75,"p":15.4},{"r":0.225,"z":-3.75,"p":15.1},{"r":0.375,"z":-3.75,"p":14.5},{"r":0.525,"z":-3.75,"p":13.6},{"r":0.675,"z":-3.75,"p":12.6},{"r":0.825,"z":-3.75,"p":11.4},{"r":0.975,"z":-3.75,"p":10.2},{"r":1.125,"z":-3.75,"p":8.9},{"r":1.275,"z":-3.75,"p":7.6},{"r":1.425,"z":-3.75,"p":6.5},{"r":1.625,"z":-3.75,"p":5.1},{"r":1.875,"z":-3.75,"p":3.7},{"r":2.125,"z":-3.75,"p":2.6},{"r":2.375,"z":-3.75,"p":1.9},{"r":2.75,"z":-3.75,"p":1.3},{"r":3.25,"z":-3.75,"p":0.9},

      {"r":-3.25,"z":-4.25,"p":0.9},{"r":-2.75,"z":-4.25,"p":1.4},{"r":-2.375,"z":-4.25,"p":2.0},{"r":-2.125,"z":-4.25,"p":2.7},{"r":-1.875,"z":-4.25,"p":3.7},{"r":-1.625,"z":-4.25,"p":5.0},{"r":-1.425,"z":-4.25,"p":6.4},{"r":-1.275,"z":-4.25,"p":7.5},{"r":-1.125,"z":-4.25,"p":8.7},{"r":-0.975,"z":-4.25,"p":9.9},{"r":-0.825,"z":-4.25,"p":11.1},{"r":-0.675,"z":-4.25,"p":12.3},{"r":-0.525,"z":-4.25,"p":13.3},{"r":-0.375,"z":-4.25,"p":14.1},{"r":-0.225,"z":-4.25,"p":14.7},{"r":-0.075,"z":-4.25,"p":15.0},
      {"r":0.075,"z":-4.25,"p":15.0},{"r":0.225,"z":-4.25,"p":14.7},{"r":0.375,"z":-4.25,"p":14.1},{"r":0.525,"z":-4.25,"p":13.3},{"r":0.675,"z":-4.25,"p":12.3},{"r":0.825,"z":-4.25,"p":11.1},{"r":0.975,"z":-4.25,"p":9.9},{"r":1.125,"z":-4.25,"p":8.7},{"r":1.275,"z":-4.25,"p":7.5},{"r":1.425,"z":-4.25,"p":6.4},{"r":1.625,"z":-4.25,"p":5.0},{"r":1.875,"z":-4.25,"p":3.7},{"r":2.125,"z":-4.25,"p":2.7},{"r":2.375,"z":-4.25,"p":2.0},{"r":2.75,"z":-4.25,"p":1.4},{"r":3.25,"z":-4.25,"p":0.9},

      {"r":-3.25,"z":-4.625,"p":0.7},{"r":-2.75,"z":-4.625,"p":1.3},{"r":-2.375,"z":-4.625,"p":2.2},{"r":-2.125,"z":-4.625,"p":3.0},{"r":-1.875,"z":-4.625,"p":4.0},{"r":-1.625,"z":-4.625,"p":5.3},{"r":-1.425,"z":-4.625,"p":6.7},{"r":-1.275,"z":-4.625,"p":7.8},{"r":-1.125,"z":-4.625,"p":9.0},{"r":-0.975,"z":-4.625,"p":10.2},{"r":-0.825,"z":-4.625,"p":11.4},{"r":-0.675,"z":-4.625,"p":12.5},{"r":-0.525,"z":-4.625,"p":13.5},{"r":-0.375,"z":-4.625,"p":14.3},{"r":-0.225,"z":-4.625,"p":14.9},{"r":-0.075,"z":-4.625,"p":15.2},
      {"r":0.075,"z":-4.625,"p":15.2},{"r":0.225,"z":-4.625,"p":14.9},{"r":0.375,"z":-4.625,"p":14.3},{"r":0.525,"z":-4.625,"p":13.5},{"r":0.675,"z":-4.625,"p":12.5},{"r":0.825,"z":-4.625,"p":11.4},{"r":0.975,"z":-4.625,"p":10.2},{"r":1.125,"z":-4.625,"p":9.0},{"r":1.275,"z":-4.625,"p":7.8},{"r":1.425,"z":-4.625,"p":6.7},{"r":1.625,"z":-4.625,"p":5.3},{"r":1.875,"z":-4.625,"p":4.0},{"r":2.125,"z":-4.625,"p":3.0},{"r":2.375,"z":-4.625,"p":2.2},{"r":2.75,"z":-4.625,"p":1.3},{"r":3.25,"z":-4.625,"p":0.7},

      {"r":-3.25,"z":-4.875,"p":1.0},{"r":-2.75,"z":-4.875,"p":1.8},{"r":-2.375,"z":-4.875,"p":3.5},{"r":-2.125,"z":-4.875,"p":4.7},{"r":-1.875,"z":-4.875,"p":6.0},{"r":-1.625,"z":-4.875,"p":7.6},{"r":-1.425,"z":-4.875,"p":9.0},{"r":-1.275,"z":-4.875,"p":10.1},{"r":-1.125,"z":-4.875,"p":11.2},{"r":-0.975,"z":-4.875,"p":12.3},{"r":-0.825,"z":-4.875,"p":13.3},{"r":-0.675,"z":-4.875,"p":14.2},{"r":-0.525,"z":-4.875,"p":15.0},{"r":-0.375,"z":-4.875,"p":15.6},{"r":-0.225,"z":-4.875,"p":16.1},{"r":-0.075,"z":-4.875,"p":16.3},
      {"r":0.075,"z":-4.875,"p":16.3},{"r":0.225,"z":-4.875,"p":16.1},{"r":0.375,"z":-4.875,"p":15.6},{"r":0.525,"z":-4.875,"p":15.0},{"r":0.675,"z":-4.875,"p":14.2},{"r":0.825,"z":-4.875,"p":13.3},{"r":0.975,"z":-4.875,"p":12.3},{"r":1.125,"z":-4.875,"p":11.2},{"r":1.275,"z":-4.875,"p":10.1},{"r":1.425,"z":-4.875,"p":9.0},{"r":1.625,"z":-4.875,"p":7.6},{"r":1.875,"z":-4.875,"p":6.0},{"r":2.125,"z":-4.875,"p":4.7},{"r":2.375,"z":-4.875,"p":3.5},{"r":2.75,"z":-4.875,"p":1.8},{"r":3.25,"z":-4.875,"p":1.0},

      {"r":-3.25,"z":-5.075,"p":1.1},{"r":-2.75,"z":-5.075,"p":2.0},{"r":-2.375,"z":-5.075,"p":3.3},{"r":-2.125,"z":-5.075,"p":4.7},{"r":-1.875,"z":-5.075,"p":6.5},{"r":-1.625,"z":-5.075,"p":9.0},{"r":-1.425,"z":-5.075,"p":10.6},{"r":-1.275,"z":-5.075,"p":12.0},{"r":-1.125,"z":-5.075,"p":13.3},{"r":-0.975,"z":-5.075,"p":14.7},{"r":-0.825,"z":-5.075,"p":15.8},{"r":-0.675,"z":-5.075,"p":17.0},{"r":-0.525,"z":-5.075,"p":17.9},{"r":-0.375,"z":-5.075,"p":18.7},{"r":-0.225,"z":-5.075,"p":19.2},{"r":-0.075,"z":-5.075,"p":19.5},
      {"r":0.075,"z":-5.075,"p":19.5},{"r":0.225,"z":-5.075,"p":19.2},{"r":0.375,"z":-5.075,"p":18.7},{"r":0.525,"z":-5.075,"p":17.9},{"r":0.675,"z":-5.075,"p":17.0},{"r":0.825,"z":-5.075,"p":15.8},{"r":0.975,"z":-5.075,"p":14.7},{"r":1.125,"z":-5.075,"p":13.3},{"r":1.275,"z":-5.075,"p":12.0},{"r":1.425,"z":-5.075,"p":10.6},{"r":1.625,"z":-5.075,"p":9.0},{"r":1.875,"z":-5.075,"p":6.5},{"r":2.125,"z":-5.075,"p":4.7},{"r":2.375,"z":-5.075,"p":3.3},{"r":2.75,"z":-5.075,"p":2.0},{"r":3.25,"z":-5.075,"p":1.1},

      {"r":-3.25,"z":-5.225,"p":1.1},{"r":-2.75,"z":-5.225,"p":2.0},{"r":-2.375,"z":-5.225,"p":3.3},{"r":-2.125,"z":-5.225,"p":4.6},{"r":-1.875,"z":-5.225,"p":6.8},{"r":-1.625,"z":-5.225,"p":10.0},{"r":-1.425,"z":-5.225,"p":11.9},{"r":-1.275,"z":-5.225,"p":13.5},{"r":-1.125,"z":-5.225,"p":15.0},{"r":-0.975,"z":-5.225,"p":16.6},{"r":-0.825,"z":-5.225,"p":18.0},{"r":-0.675,"z":-5.225,"p":19.3},{"r":-0.525,"z":-5.225,"p":20.5},{"r":-0.375,"z":-5.225,"p":21.3},{"r":-0.225,"z":-5.225,"p":22.0},{"r":-0.075,"z":-5.225,"p":22.3},
      {"r":0.075,"z":-5.225,"p":22.3},{"r":0.225,"z":-5.225,"p":22.0},{"r":0.375,"z":-5.225,"p":21.3},{"r":0.525,"z":-5.225,"p":20.5},{"r":0.675,"z":-5.225,"p":19.3},{"r":0.825,"z":-5.225,"p":18.0},{"r":0.975,"z":-5.225,"p":16.6},{"r":1.125,"z":-5.225,"p":15.0},{"r":1.275,"z":-5.225,"p":13.5},{"r":1.425,"z":-5.225,"p":11.9},{"r":1.625,"z":-5.225,"p":10.0},{"r":1.875,"z":-5.225,"p":6.8},{"r":2.125,"z":-5.225,"p":4.6},{"r":2.375,"z":-5.225,"p":3.3},{"r":2.75,"z":-5.225,"p":2.0},{"r":3.25,"z":-5.225,"p":1.1},

      {"r":-3.25,"z":-5.35,"p":1.0},{"r":-2.75,"z":-5.35,"p":1.8},{"r":-2.375,"z":-5.35,"p":3.2},{"r":-2.125,"z":-5.35,"p":4.5},{"r":-1.875,"z":-5.35,"p":6.5},{"r":-1.625,"z":-5.35,"p":9.4},{"r":-1.425,"z":-5.35,"p":11.2},{"r":-1.275,"z":-5.35,"p":12.7},{"r":-1.125,"z":-5.35,"p":14.2},{"r":-0.975,"z":-5.35,"p":15.6},{"r":-0.825,"z":-5.35,"p":17.0},{"r":-0.675,"z":-5.35,"p":18.2},{"r":-0.525,"z":-5.35,"p":19.3},{"r":-0.375,"z":-5.35,"p":20.1},{"r":-0.225,"z":-5.35,"p":20.7},{"r":-0.075,"z":-5.35,"p":21.0},
      {"r":0.075,"z":-5.35,"p":21.0},{"r":0.225,"z":-5.35,"p":20.7},{"r":0.375,"z":-5.35,"p":20.1},{"r":0.525,"z":-5.35,"p":19.3},{"r":0.675,"z":-5.35,"p":18.2},{"r":0.825,"z":-5.35,"p":17.0},{"r":0.975,"z":-5.35,"p":15.6},{"r":1.125,"z":-5.35,"p":14.2},{"r":1.275,"z":-5.35,"p":12.7},{"r":1.425,"z":-5.35,"p":11.2},{"r":1.625,"z":-5.35,"p":9.4},{"r":1.875,"z":-5.35,"p":6.5},{"r":2.125,"z":-5.35,"p":4.5},{"r":2.375,"z":-5.35,"p":3.2},{"r":2.75,"z":-5.35,"p":1.8},{"r":3.25,"z":-5.35,"p":1.0},

      {"r":-3.25,"z":-5.45,"p":0.8},{"r":-2.75,"z":-5.45,"p":1.5},{"r":-2.375,"z":-5.45,"p":2.7},{"r":-2.125,"z":-5.45,"p":3.6},{"r":-1.875,"z":-5.45,"p":4.6},{"r":-1.625,"z":-5.45,"p":5.9},{"r":-1.425,"z":-5.45,"p":7.0},{"r":-1.275,"z":-5.45,"p":7.9},{"r":-1.125,"z":-5.45,"p":8.7},{"r":-0.975,"z":-5.45,"p":9.6},{"r":-0.825,"z":-5.45,"p":10.4},{"r":-0.675,"z":-5.45,"p":11.1},{"r":-0.525,"z":-5.45,"p":11.8},{"r":-0.375,"z":-5.45,"p":12.3},{"r":-0.225,"z":-5.45,"p":12.6},{"r":-0.075,"z":-5.45,"p":12.8},
      {"r":0.075,"z":-5.45,"p":12.8},{"r":0.225,"z":-5.45,"p":12.6},{"r":0.375,"z":-5.45,"p":12.3},{"r":0.525,"z":-5.45,"p":11.8},{"r":0.675,"z":-5.45,"p":11.1},{"r":0.825,"z":-5.45,"p":10.4},{"r":0.975,"z":-5.45,"p":9.6},{"r":1.125,"z":-5.45,"p":8.7},{"r":1.275,"z":-5.45,"p":7.9},{"r":1.425,"z":-5.45,"p":7.0},{"r":1.625,"z":-5.45,"p":5.9},{"r":1.875,"z":-5.45,"p":4.6},{"r":2.125,"z":-5.45,"p":3.6},{"r":2.375,"z":-5.45,"p":2.7},{"r":2.75,"z":-5.45,"p":1.5},{"r":3.25,"z":-5.45,"p":0.8},

      {"r":-2.75,"z":-5.55,"p":1.0},{"r":-2.375,"z":-5.55,"p":1.5},{"r":-2.125,"z":-5.55,"p":1.8},{"r":-1.875,"z":-5.55,"p":2.3},{"r":-1.625,"z":-5.55,"p":2.8},{"r":-1.425,"z":-5.55,"p":3.3},{"r":-1.275,"z":-5.55,"p":3.7},{"r":-1.125,"z":-5.55,"p":4.1},{"r":-0.975,"z":-5.55,"p":4.4},{"r":-0.825,"z":-5.55,"p":4.8},{"r":-0.675,"z":-5.55,"p":5.1},{"r":-0.525,"z":-5.55,"p":5.4},{"r":-0.375,"z":-5.55,"p":5.6},{"r":-0.225,"z":-5.55,"p":5.7},{"r":-0.075,"z":-5.55,"p":5.8},
      {"r":0.075,"z":-5.55,"p":5.8},{"r":0.225,"z":-5.55,"p":5.7},{"r":0.375,"z":-5.55,"p":5.6},{"r":0.525,"z":-5.55,"p":5.4},{"r":0.675,"z":-5.55,"p":5.1},{"r":0.825,"z":-5.55,"p":4.8},{"r":0.975,"z":-5.55,"p":4.4},{"r":1.125,"z":-5.55,"p":4.1},{"r":1.275,"z":-5.55,"p":3.7},{"r":1.425,"z":-5.55,"p":3.3},{"r":1.625,"z":-5.55,"p":2.8},{"r":1.875,"z":-5.55,"p":2.3},{"r":2.125,"z":-5.55,"p":1.8},{"r":2.375,"z":-5.55,"p":1.5},{"r":2.75,"z":-5.55,"p":1.0},

      {"r":-2.75,"z":-5.675,"p":0.7},{"r":-2.375,"z":-5.675,"p":0.9},{"r":-2.125,"z":-5.675,"p":1.0},{"r":-1.875,"z":-5.675,"p":1.2},{"r":-1.625,"z":-5.675,"p":1.4},{"r":-1.425,"z":-5.675,"p":1.5},{"r":-1.275,"z":-5.675,"p":1.7},{"r":-1.125,"z":-5.675,"p":1.8},{"r":-0.975,"z":-5.675,"p":1.9},{"r":-0.825,"z":-5.675,"p":2.0},{"r":-0.675,"z":-5.675,"p":2.2},{"r":-0.525,"z":-5.675,"p":2.3},{"r":-0.375,"z":-5.675,"p":2.3},{"r":-0.225,"z":-5.675,"p":2.4},{"r":-0.075,"z":-5.675,"p":2.4},
      {"r":0.075,"z":-5.675,"p":2.4},{"r":0.225,"z":-5.675,"p":2.4},{"r":0.375,"z":-5.675,"p":2.3},{"r":0.525,"z":-5.675,"p":2.3},{"r":0.675,"z":-5.675,"p":2.2},{"r":0.825,"z":-5.675,"p":2.0},{"r":0.975,"z":-5.675,"p":1.9},{"r":1.125,"z":-5.675,"p":1.8},{"r":1.275,"z":-5.675,"p":1.7},{"r":1.425,"z":-5.675,"p":1.5},{"r":1.625,"z":-5.675,"p":1.4},{"r":1.875,"z":-5.675,"p":1.2},{"r":2.125,"z":-5.675,"p":1.0},{"r":2.375,"z":-5.675,"p":0.9},{"r":2.75,"z":-5.675,"p":0.7},

      {"r":-1.625,"z":-5.875,"p":0.7},{"r":-1.425,"z":-5.875,"p":0.7},{"r":-1.275,"z":-5.875,"p":0.7},{"r":-1.125,"z":-5.875,"p":0.8},{"r":-0.975,"z":-5.875,"p":0.8},{"r":-0.825,"z":-5.875,"p":0.8},{"r":-0.675,"z":-5.875,"p":0.8},{"r":-0.525,"z":-5.875,"p":0.9},{"r":-0.375,"z":-5.875,"p":0.9},{"r":-0.225,"z":-5.875,"p":0.9},{"r":-0.075,"z":-5.875,"p":0.9},
      {"r":0.075,"z":-5.875,"p":0.9},{"r":0.225,"z":-5.875,"p":0.9},{"r":0.375,"z":-5.875,"p":0.9},{"r":0.525,"z":-5.875,"p":0.9},{"r":0.675,"z":-5.875,"p":0.8},{"r":0.825,"z":-5.875,"p":0.8},{"r":0.975,"z":-5.875,"p":0.8},{"r":1.125,"z":-5.875,"p":0.8},{"r":1.275,"z":-5.875,"p":0.7},{"r":1.425,"z":-5.875,"p":0.7},{"r":1.625,"z":-5.875,"p":0.7}
    ]
  },
  "encoding": {
    "x": {
      "field": "r0",
      "type": "quantitative",
      "scale": {"domain": [-8.67, 8.27], "nice": false, "zero": false},
      "axis": {
        "title": "r [cm]",
        "values": [-8, -4, -3, -2, -1, 0, 1, 2, 3, 4, 8],
        "tickSize": -6,
        "labelPadding": 17,
        "titlePadding": 13
      }
    },
    "x2": {"field": "r1"},
    "y": {
      "field": "z0",
      "type": "quantitative",
      "scale": {"domain": [-8, 8], "nice": false, "zero": false},
      "axis": {
        "title": "z [cm]",
        "values": [-8, -7, -6, -5, -4, -3, -2, -1, 0, 1, 2, 3, 4, 5, 6, 7, 8],
        "tickSize": -7,
        "labelPadding": 14,
        "titlePadding": 4
      }
    },
    "y2": {"field": "z1"},
    "color": {
      "field": "p",
      "type": "quantitative",
      "scale": {
        "domain": [0, 4.525, 9.05, 13.575, 18.1, 22.625, 27.15, 31.675, 36.2],
        "range": ["#000080", "#0000ff", "#0080ff", "#00ffff", "#80ff80", "#ffff00", "#ff8000", "#ff0000", "#800000"],
        "interpolate": "rgb"
      },
      "legend": {
        "type": "gradient",
        "orient": "none",
        "legendX": 783,
        "legendY": -3,
        "direction": "vertical",
        "title": null,
        "gradientLength": 735,
        "gradientThickness": 65,
        "gradientStrokeColor": "#9a9a9a",
        "gradientStrokeWidth": 1.5,
        "values": [0, 5, 10, 15, 20, 25, 30, 35],
        "labelFont": "DejaVu Sans",
        "labelFontSize": 15,
        "labelColor": "#222222",
        "labelOffset": 5,
        "labelOverlap": false
      }
    }
  },
  "layer": [
    {
      "data": {"name": "frame"},
      "mark": {"type": "rect", "stroke": "#9c9cd4", "strokeWidth": 1.5}
    },
    {
      "data": {"name": "cells"},
      "transform": [
        {"lookup": "r", "from": {"data": {"name": "columns"}, "key": "r", "fields": ["r0", "r1"]}},
        {"lookup": "z", "from": {"data": {"name": "rows"}, "key": "z", "fields": ["z0", "z1"]}}
      ],
      "mark": {"type": "rect", "strokeWidth": 0}
    }
  ]
}
